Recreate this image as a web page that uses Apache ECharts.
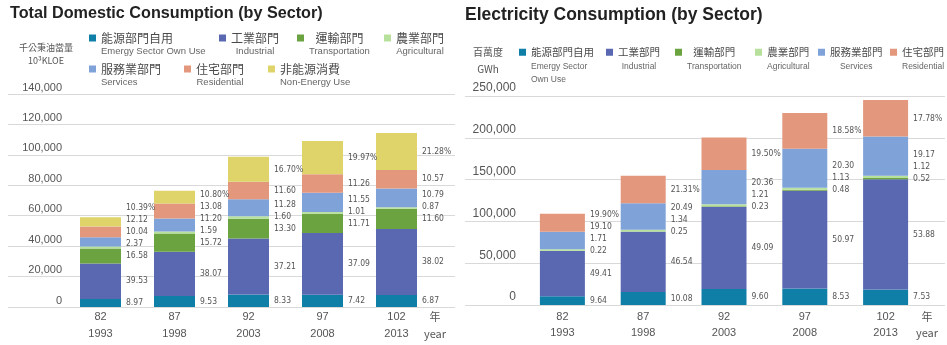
<!DOCTYPE html>
<html>
<head>
<meta charset="utf-8">
<script src="https://cdn.jsdelivr.net/npm/echarts@6/dist/echarts.min.js"></script>
<style>
  html, body { margin: 0; padding: 0; background: #fff; }
  #chart { width: 947px; height: 345px; }
</style>
</head>
<body>
<div id="chart"></div>
<script>
// ---- categories (ROC year / AD year) ----
const rocYears = ['82', '87', '92', '97', '102'];
const adYears = ['1993', '1998', '2003', '2008', '2013'];

// ---- total domestic consumption, 10^3 KLOE ----
const domesticTotals = [59071, 76336, 98706, 109096, 114369];
// sector shares of the total (%)
const domOwnUse      = [8.97, 9.53, 8.33, 7.42, 6.87];
const domIndustrial  = [39.53, 38.07, 37.21, 37.09, 38.02];
const domTransport   = [16.58, 15.72, 13.30, 11.71, 11.60];
const domAgricultural= [2.37, 1.59, 1.60, 1.01, 0.87];
const domServices    = [10.04, 11.20, 11.28, 11.55, 10.79];
const domResidential = [12.12, 13.08, 11.60, 11.26, 10.57];
const domNonEnergy   = [10.39, 10.80, 16.70, 19.97, 21.28];

// ---- electricity consumption, GWh ----
const elecTotals = [109290, 154589, 200466, 229691, 245089];
const elecOwnUse      = [9.64, 10.08, 9.60, 8.53, 7.53];
const elecIndustrial  = [49.41, 46.54, 49.09, 50.97, 53.88];
const elecTransport   = [0.22, 0.25, 0.23, 0.48, 0.52];
const elecAgricultural= [1.71, 1.34, 1.21, 1.13, 1.12];
const elecServices    = [19.10, 20.49, 20.36, 20.30, 19.17];
const elecResidential = [19.90, 21.31, 19.50, 18.58, 17.78];

// ---- value axis ranges ----
const domAxisMax = 140000, domAxisStep = 20000;
const elecAxisMax = 250000, elecAxisStep = 50000;

// ---- sector names and colours ----
const SECTOR = {
  own:   { cn: '能源部門自用', en: 'Emergy Sector Own Use', color: '#0f7fa8' },
  ind:   { cn: '工業部門', en: 'Industrial', color: '#5a68b2' },
  tra:   { cn: '運輸部門', en: 'Transportation', color: '#6aa33f' },
  agr:   { cn: '農業部門', en: 'Agricultural', color: '#b6e09b' },
  ser:   { cn: '服務業部門', en: 'Services', color: '#7fa3d9' },
  res:   { cn: '住宅部門', en: 'Residential', color: '#e3977d' },
  non:   { cn: '非能源消費', en: 'Non-Energy Use', color: '#ded46a' }
};

const LATIN = 'Liberation Sans, Arial, sans-serif';
const NARROW = 'Liberation Sans Narrow, DejaVu Sans Condensed, sans-serif';
const CJK = 'Noto Sans CJK TC, Noto Sans CJK SC, sans-serif';
const GRID_COLOR = '#d9d9d9';
const LABEL_GAP = 12;

// keeps share labels of one bar from overlapping: walk up the stack
function makeSpreader() {
  const placed = {};
  return function (order, params) {
    const r = params.labelRect;
    const c = r.y + r.height / 2;
    const k = params.dataIndex;
    if (order === 0 || placed[k] == null) { placed[k] = c; return {}; }
    let target = c;
    if (placed[k] - target < LABEL_GAP) target = placed[k] - LABEL_GAP;
    placed[k] = target;
    return { dy: target - c };
  };
}

function stackSeries(stackId, parts, totals, axisIdx, barWidth) {
  const spread = makeSpreader();
  return parts.map(([key, share], i) => ({
    type: 'bar',
    name: SECTOR[key].cn,
    stack: stackId,
    xAxisIndex: axisIdx, yAxisIndex: axisIdx,
    barWidth: barWidth,
    data: share.map((p, j) => totals[j] * p / 100),
    itemStyle: { color: SECTOR[key].color },
    label: {
      show: true, position: 'right', distance: 5,
      color: '#555', fontSize: 8.5, fontFamily: NARROW,
      formatter: p => share[p.dataIndex].toFixed(2) + (i === parts.length - 1 ? '%' : '')
    },
    labelLayout: params => spread(i, params),
    animation: false
  }));
}

function totalSeries(totals, axisIdx, fontSize) {
  return {
    type: 'scatter',
    xAxisIndex: axisIdx, yAxisIndex: axisIdx,
    data: totals,
    symbolSize: 1,
    itemStyle: { opacity: 0 },
    label: {
      show: true, position: 'top', distance: 3,
      color: '#c7403a', fontSize: fontSize, fontFamily: LATIN,
      formatter: p => totals[p.dataIndex].toLocaleString('en-US')
    },
    silent: true,
    animation: false
  };
}

function legendItem(key, left, top, pad, cnSize, cnLH, enSize, enLH, enText, align) {
  return {
    data: [SECTOR[key].cn],
    left: left, top: top, padding: 0,
    orient: 'horizontal',
    selectedMode: false,
    icon: 'rect', itemWidth: 7, itemHeight: 7,
    formatter: name => '{cn|' + name + '}\n{en|' + (enText || SECTOR[key].en) + '}',
    textStyle: {
      padding: [pad, 0, 0, 0],
      rich: {
        cn: { fontSize: cnSize, lineHeight: cnLH, color: '#4a4a4a', fontFamily: CJK, align: align },
        en: { fontSize: enSize, lineHeight: enLH, color: '#666', fontFamily: LATIN, align: align }
      }
    }
  };
}

const domParts = [
  ['own', domOwnUse], ['ind', domIndustrial], ['tra', domTransport], ['agr', domAgricultural],
  ['ser', domServices], ['res', domResidential], ['non', domNonEnergy]
];
const elecParts = [
  ['own', elecOwnUse], ['ind', elecIndustrial], ['tra', elecTransport], ['agr', elecAgricultural],
  ['ser', elecServices], ['res', elecResidential]
];

const catLabels = rocYears.map((r, i) => r + '\n' + adYears[i]);

const L1 = [12, 14, 9.5, 12];     // left legend: cn size, cn line, en size, en line
const R1 = [10.5, 15, 8.5, 13];   // right legend

const option = {
  backgroundColor: '#fff',
  animation: false,
  title: [
    { text: 'Total Domestic Consumption (by Sector)', left: 10, top: 6, padding: 0,
      textStyle: { fontSize: 16.2, fontWeight: 'bold', color: '#222', fontFamily: LATIN } },
    { text: 'Electricity Consumption (by Sector)', left: 465, top: 6, padding: 0,
      textStyle: { fontSize: 17.5, fontWeight: 'bold', color: '#222', fontFamily: LATIN } }
  ],
  legend: [
    legendItem('own', 89, 32, 12, ...L1, null, 'left'),
    legendItem('ind', 219, 32, 12, ...L1, null, 'center'),
    legendItem('tra', 297, 32, 12, ...L1, null, 'center'),
    legendItem('agr', 384, 32, 12, ...L1, null, 'center'),
    legendItem('ser', 89, 63, 12, ...L1, null, 'left'),
    legendItem('res', 184, 63, 12, ...L1, null, 'center'),
    legendItem('non', 268, 63, 12, ...L1, null, 'left'),
    legendItem('own', 519, 47, 26, ...R1, 'Emergy Sector\nOwn Use', 'left'),
    legendItem('ind', 606, 47, 13, ...R1, null, 'center'),
    legendItem('tra', 675, 47, 13, ...R1, null, 'center'),
    legendItem('agr', 755, 47, 13, ...R1, null, 'center'),
    legendItem('ser', 818, 47, 13, ...R1, null, 'center'),
    legendItem('res', 890, 47, 13, ...R1, null, 'center')
  ],
  grid: [
    { left: 8, top: 94, width: 447, height: 213, outerBoundsMode: 'none' },      // domestic: gridline frame
    { left: 63.5, top: 94, width: 370, height: 213, outerBoundsMode: 'none' },   // domestic: bars
    { left: 465, top: 96, width: 480, height: 209, outerBoundsMode: 'none' },    // electricity: gridline frame
    { left: 522, top: 96, width: 404, height: 209, outerBoundsMode: 'none' }     // electricity: bars
  ],
  xAxis: [
    { type: 'value', gridIndex: 0, show: false, min: 0, max: 1 },
    { type: 'category', gridIndex: 1, data: catLabels,
      axisLine: { show: false }, axisTick: { show: false },
      axisLabel: { color: '#555', fontSize: 11, lineHeight: 17, margin: 1.5, fontFamily: LATIN },
      name: '年\nyear', nameLocation: 'end', nameGap: 1.5,
      nameTextStyle: { color: '#555', fontSize: 11, lineHeight: 17, align: 'center',
        verticalAlign: 'top', padding: [1.5, 0, 0, 0], fontFamily: CJK } },
    { type: 'value', gridIndex: 2, show: false, min: 0, max: 1 },
    { type: 'category', gridIndex: 3, data: catLabels,
      axisLine: { show: false }, axisTick: { show: false },
      axisLabel: { color: '#555', fontSize: 11, lineHeight: 16, margin: 4, fontFamily: LATIN },
      name: '年\nyear', nameLocation: 'end', nameGap: 1,
      nameTextStyle: { color: '#555', fontSize: 11, lineHeight: 16, align: 'center',
        verticalAlign: 'top', padding: [4, 0, 0, 0], fontFamily: CJK } }
  ],
  yAxis: [
    { type: 'value', gridIndex: 0, min: 0, max: domAxisMax, interval: domAxisStep,
      axisLine: { show: false }, axisTick: { show: false },
      splitLine: { lineStyle: { color: GRID_COLOR, width: 1 } },
      axisLabel: { inside: false, align: 'right', verticalAlign: 'bottom', margin: -54,
        color: '#555', fontSize: 11, fontFamily: LATIN, padding: [0, 0, 1, 0],
        formatter: v => v.toLocaleString('en-US') },
      name: '千公秉油當量\n10³KLOE', nameLocation: 'end', nameGap: 27,
      nameTextStyle: { color: '#555', fontSize: 9, lineHeight: 13, align: 'center',
        verticalAlign: 'bottom', padding: [0, 0, 0, 76], fontFamily: CJK } },
    { type: 'value', gridIndex: 1, min: 0, max: domAxisMax, interval: domAxisStep, show: false,
      splitLine: { show: false } },
    { type: 'value', gridIndex: 2, min: 0, max: elecAxisMax, interval: elecAxisStep,
      axisLine: { show: false }, axisTick: { show: false },
      splitLine: { lineStyle: { color: GRID_COLOR, width: 1 } },
      axisLabel: { inside: false, align: 'right', verticalAlign: 'bottom', margin: -51,
        color: '#555', fontSize: 12, fontFamily: LATIN, padding: [0, 0, 2, 0],
        formatter: v => v.toLocaleString('en-US') },
      name: '百萬度\nGWh', nameLocation: 'end', nameGap: 18,
      nameTextStyle: { color: '#555', fontSize: 10, lineHeight: 17, align: 'center',
        verticalAlign: 'bottom', padding: [0, 0, 0, 46], fontFamily: CJK } },
    { type: 'value', gridIndex: 3, min: 0, max: elecAxisMax, interval: elecAxisStep, show: false,
      splitLine: { show: false } }
  ],
  series: [
    ...stackSeries('domestic', domParts, domesticTotals, 1, 41),
    totalSeries(domesticTotals, 1, 10),
    ...stackSeries('electricity', elecParts, elecTotals, 3, 45),
    totalSeries(elecTotals, 3, 11)
  ]
};

const chart = echarts.init(document.getElementById('chart'), null, { renderer: 'canvas' });
chart.setOption(option);
</script>
</body>
</html>
